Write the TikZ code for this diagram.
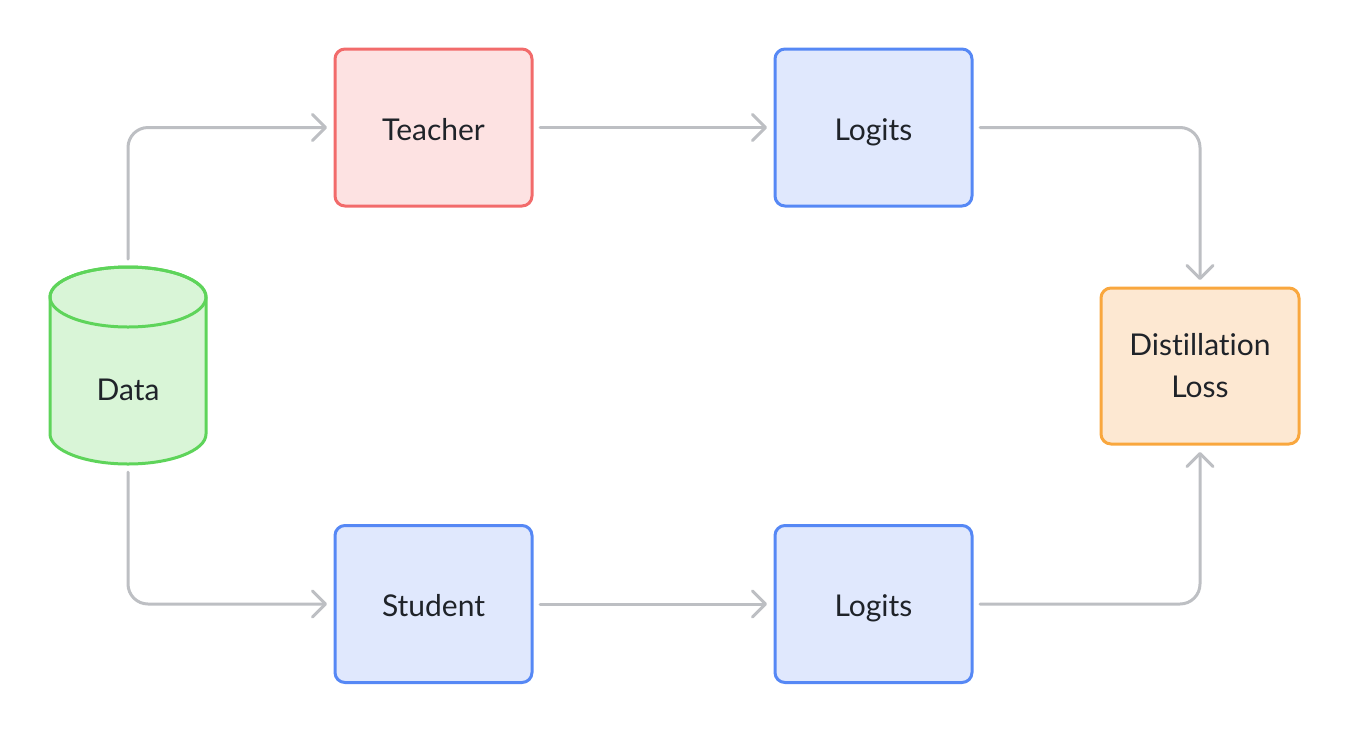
\documentclass[tikz,border=0pt]{standalone}
\usepackage{fontspec}
\setmainfont{Lato}[Ligatures=NoCommon]
\usetikzlibrary{arrows.meta}
\definecolor{ink}{HTML}{1F2329}
\definecolor{flowgray}{HTML}{BDBFC3}
\definecolor{redfill}{HTML}{FDE2E2}
\definecolor{redline}{HTML}{F26B6B}
\definecolor{bluefill}{HTML}{E0E8FD}
\definecolor{blueline}{HTML}{5688F5}
\definecolor{orangefill}{HTML}{FDE8D2}
\definecolor{orangeline}{HTML}{F9A73E}
\definecolor{greenfill}{HTML}{D9F5D7}
\definecolor{greenline}{HTML}{5ED45A}
\begin{document}
\begin{tikzpicture}[x=1pt,y=-1pt,
  every node/.style={font=\fontsize{30}{42}\selectfont, text=ink, outer sep=0pt},
  oneline/.style={text height=25pt, text depth=0pt},
  box/.style={rectangle, rounded corners=10pt, line width=3pt,
    minimum width=197pt, minimum height=157pt, align=center},
  redbox/.style={box, oneline, draw=redline, fill=redfill},
  bluebox/.style={box, oneline, draw=blueline, fill=bluefill},
  orangebox/.style={box, draw=orangeline, fill=orangefill},
  flow/.style={draw=flowgray, line width=3pt, rounded corners=20pt,
    line cap=round, line join=round,
    shorten <=8pt, shorten >=8pt,
    -{Straight Barb[length=13pt, width=26pt, line cap=round, line join=round]}},
  cyl/.style={fill=greenfill, draw=greenline, line width=3pt}]
\useasboundingbox (0,0) rectangle (1350,732);

% data store drawn as a cylinder
\path[cyl] (50,297) -- (50,434)
  arc[start angle=180, end angle=0, x radius=78, y radius=30]
  -- (206,297)
  arc[start angle=0, end angle=-180, x radius=78, y radius=30] -- cycle;
\draw[cyl, fill=none] (128,297) ellipse [x radius=78, y radius=30];
\node[minimum width=156pt, minimum height=197pt] (data) at (128,365.5) {};
\node[oneline] (datatext) at (128,387.5) {Data};

% models and outputs
\node[redbox] (teacher) at (433.5,127.5) {Teacher};
\node[bluebox] (logitsT) at (873.5,127.5) {Logits};
\node[bluebox] (student) at (433.5,604) {Student};
\node[bluebox] (logitsS) at (873.5,604) {Logits};
\node[orangebox, minimum width=198pt, minimum height=156pt] (loss) at (1200,366) {Distillation\\Loss};

% connections
\draw[flow] (data.north) |- (teacher.west);
\draw[flow] (data.south) |- (student.west);
\draw[flow] (teacher.east) -- (logitsT.west);
\draw[flow] (student.east) -- (logitsS.west);
\draw[flow] (logitsT.east) -| (loss.north);
\draw[flow] (logitsS.east) -| (loss.south);
\end{tikzpicture}
\end{document}
